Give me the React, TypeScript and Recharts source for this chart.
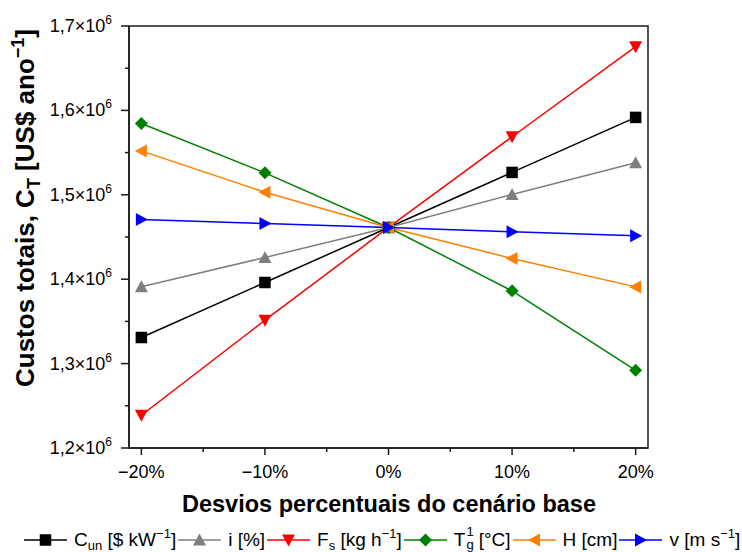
import { LineChart, Line, XAxis, YAxis, Legend, ReferenceArea } from "recharts";

const deviations: number[] = [-20, -10, 0, 10, 20];
const xTicks: number[] = [-20, -15, -10, -5, 0, 5, 10, 15, 20];
const yTicks: number[] = [
  1200000, 1250000, 1300000, 1350000, 1400000, 1450000, 1500000, 1550000,
  1600000, 1650000, 1700000,
];

// custos totais (US$/ano) para cada desvio
const costUnit: number[] = [1330900, 1396100, 1461300, 1526500, 1591700];
const interest: number[] = [1391000, 1425700, 1461300, 1500400, 1537900];
const feedRate: number[] = [1238800, 1351400, 1461300, 1568800, 1675500];
const gasTemp: number[] = [1584400, 1526000, 1461300, 1386200, 1292100];
const bedHeight: number[] = [1552000, 1503000, 1461300, 1424600, 1390900];
const velocity: number[] = [1470800, 1466000, 1461300, 1456100, 1451400];

const FONT = '"Liberation Sans", Arial, sans-serif';
const AXIS = "#1a1a1a";

type Shape = "square" | "up" | "down" | "diamond" | "left" | "right";

const series: { key: string; color: string; shape: Shape; values: number[] }[] = [
  { key: "cun", color: "#000000", shape: "square", values: costUnit },
  { key: "i", color: "#7f7f7f", shape: "up", values: interest },
  { key: "fs", color: "#ff0000", shape: "down", values: feedRate },
  { key: "tg", color: "#008000", shape: "diamond", values: gasTemp },
  { key: "h", color: "#ff8000", shape: "left", values: bedHeight },
  { key: "v", color: "#0000ff", shape: "right", values: velocity },
];

const data = deviations.map((d, i) => {
  const row: Record<string, number> = { dev: d };
  series.forEach((s) => (row[s.key] = s.values[i]));
  return row;
});

const sub = { fontSize: 13, lineHeight: 0, verticalAlign: "-4px" } as const;
const sup = { fontSize: 13, lineHeight: 0, verticalAlign: "8px" } as const;

const legendLabels: Record<string, React.ReactNode> = {
  cun: (
    <>
      C<span style={sub}>un</span> [$ kW<span style={sup}>−1</span>]
    </>
  ),
  i: <>i [%]</>,
  fs: (
    <>
      F<span style={sub}>s</span> [kg h<span style={sup}>−1</span>]
    </>
  ),
  tg: (
    <>
      T
      <span style={{ position: "relative", display: "inline-block", width: 8, height: 10 }}>
        <span style={{ position: "absolute", left: 1, top: -10, fontSize: 13, lineHeight: "12px" }}>1</span>
        <span style={{ position: "absolute", left: 1, top: 3, fontSize: 13, lineHeight: "12px" }}>g</span>
      </span>{" "}
      [°C]
    </>
  ),
  h: <>H [cm]</>,
  v: (
    <>
      v [m s<span style={sup}>−1</span>]
    </>
  ),
};

const Marker = ({ shape, cx, cy, color }: { shape: Shape; cx: number; cy: number; color: string }) => {
  const s = 6.5;
  switch (shape) {
    case "square":
      return <rect x={cx - 5.75} y={cy - 5.75} width={11.5} height={11.5} fill={color} />;
    case "up":
      return <polygon points={`${cx},${cy - s} ${cx + s},${cy + 5.5} ${cx - s},${cy + 5.5}`} fill={color} />;
    case "down":
      return <polygon points={`${cx},${cy + s} ${cx + s},${cy - 5.5} ${cx - s},${cy - 5.5}`} fill={color} />;
    case "left":
      return <polygon points={`${cx - s},${cy} ${cx + 5.5},${cy - s} ${cx + 5.5},${cy + s}`} fill={color} />;
    case "right":
      return <polygon points={`${cx + s},${cy} ${cx - 5.5},${cy - s} ${cx - 5.5},${cy + s}`} fill={color} />;
    default:
      return <polygon points={`${cx},${cy - 6.5} ${cx + 6.5},${cy} ${cx},${cy + 6.5} ${cx - 6.5},${cy}`} fill={color} />;
  }
};

const YTick = (props: any) => {
  const { x, y, payload } = props;
  const v: number = payload.value;
  const major = Math.abs(v / 100000 - Math.round(v / 100000)) < 1e-6;
  const txt = (v / 1e6).toFixed(1).replace(".", ",");
  return (
    <g>
      <line x1={x} x2={x - (major ? 8 : 4)} y1={y} y2={y} stroke={AXIS} strokeWidth={1.5} />
      {major && (
        <text x={x - 17} y={y + 6} textAnchor="end" fontSize={18} fontFamily={FONT} fill="#000">
          <tspan>{txt}×10</tspan>
          <tspan dy={-8} fontSize={12}>6</tspan>
        </text>
      )}
    </g>
  );
};

const XTick = (props: any) => {
  const { x, y, payload } = props;
  const v: number = payload.value;
  const major = v % 10 === 0;
  const txt = `${v < 0 ? "−" : ""}${Math.abs(v)}%`;
  return (
    <g>
      <line x1={x} x2={x} y1={y} y2={y + (major ? 7 : 4)} stroke={AXIS} strokeWidth={1.5} />
      {major && (
        <text x={x} y={y + 30} textAnchor="middle" fontSize={18} fontFamily={FONT} fill="#000">
          {txt}
        </text>
      )}
    </g>
  );
};

const YTitle = () => (
  <text
    transform="rotate(-90, 34, 208)"
    x={34}
    y={208}
    textAnchor="middle"
    fontSize={26}
    fontWeight="bold"
    fontFamily={FONT}
    fill="#000"
  >
    <tspan>Custos totais, C</tspan>
    <tspan fontSize={18} dy={6}>T</tspan>
    <tspan dy={-6}> [US$ ano</tspan>
    <tspan fontSize={18} dy={-10}>−1</tspan>
    <tspan dy={10}>]</tspan>
  </text>
);

const XTitle = () => (
  <text x={389} y={512} textAnchor="middle" fontSize={23.5} fontWeight="bold" fontFamily={FONT} fill="#000">
    Desvios percentuais do cenário base
  </text>
);

const LegendContent = () => (
  <div
    style={{
      display: "flex",
      alignItems: "center",
      height: 24,
      paddingLeft: 24,
      fontFamily: FONT,
      fontSize: 19,
      lineHeight: "24px",
      color: "#000",
      whiteSpace: "nowrap",
    }}
  >
    {series.map((s) => (
      <div key={s.key} style={{ display: "flex", alignItems: "center" }}>
        <svg width={43} height={24} style={{ display: "block" }}>
          <line x1={0} x2={43} y1={12} y2={12} stroke={s.color} strokeWidth={1.5} />
          <Marker shape={s.shape} cx={21.5} cy={12} color={s.color} />
        </svg>
        <span style={{ marginLeft: 7, marginRight: 2 }}>{legendLabels[s.key]}</span>
      </div>
    ))}
  </div>
);

export default function App() {
  return (
    <div style={{ position: "absolute", left: 0, top: 0, background: "#fff" }}>
      <LineChart width={742} height={552} data={data} margin={{ top: 26, right: 94, bottom: 0, left: 0 }}>
        <XAxis
          dataKey="dev"
          type="number"
          domain={[-21, 21]}
          ticks={xTicks}
          interval={0}
          height={80}
          tickSize={0}
          tickMargin={0}
          tick={<XTick />}
          axisLine={{ stroke: AXIS, strokeWidth: 1.5 }}
          label={() => <XTitle />}
        />
        <YAxis
          type="number"
          domain={[1200000, 1700000]}
          ticks={yTicks}
          interval={0}
          width={129}
          tickSize={0}
          tickMargin={0}
          tick={<YTick />}
          allowDataOverflow
          axisLine={{ stroke: AXIS, strokeWidth: 1.5 }}
          label={() => <YTitle />}
        />
        <ReferenceArea
          x1={-21}
          x2={21}
          y1={1200000}
          y2={1700000}
          fill="none"
          stroke={AXIS}
          strokeWidth={1.5}
          ifOverflow="visible"
        />
        {series.map((s) => (
          <Line
            key={s.key}
            dataKey={s.key}
            stroke={s.color}
            strokeWidth={1.5}
            isAnimationActive={false}
            dot={(p: any) => (
              <Marker key={`${s.key}-${p.index}`} shape={s.shape} cx={p.cx} cy={p.cy} color={s.color} />
            )}
            activeDot={false}
          />
        ))}
        <Legend
          verticalAlign="bottom"
          align="left"
          content={() => <LegendContent />}
          wrapperStyle={{ left: 0, bottom: 0, width: 742, height: 24 }}
        />
      </LineChart>
    </div>
  );
}
